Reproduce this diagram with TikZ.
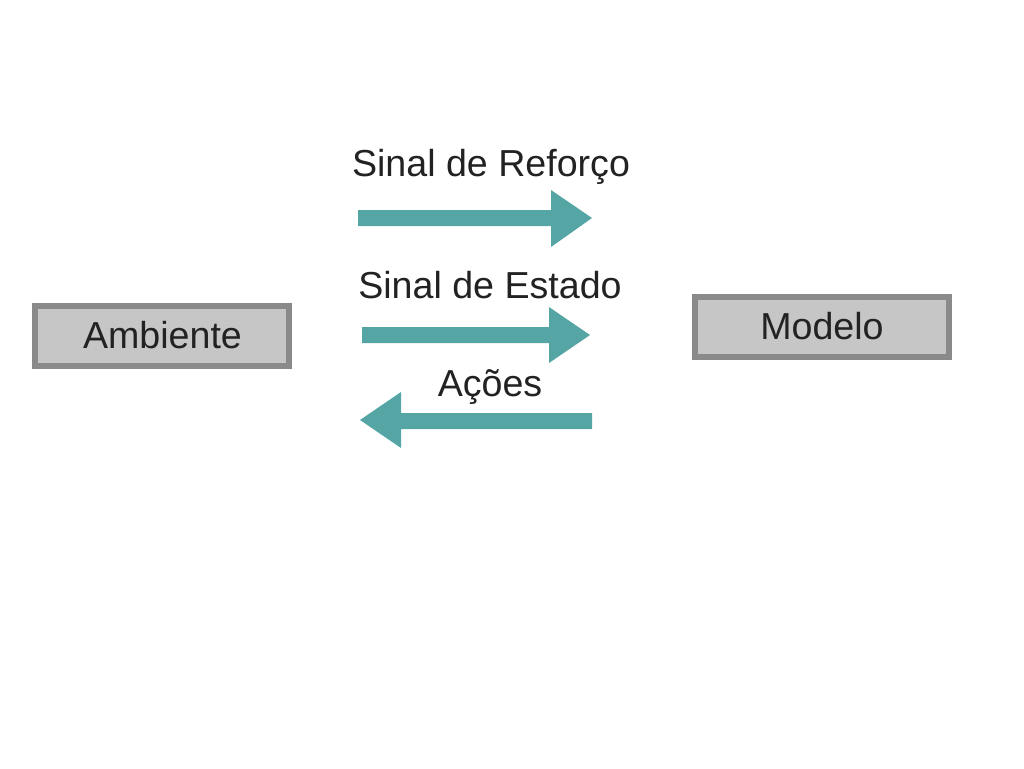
\documentclass[tikz,border=0pt]{standalone}
\usepackage{fontspec}
\setmainfont{Liberation Sans}
\definecolor{teal1}{HTML}{56A5A5}
\definecolor{boxfill}{HTML}{C6C6C6}
\definecolor{boxline}{HTML}{8A8A8A}
\definecolor{txt}{HTML}{222222}
\begin{document}
\begin{tikzpicture}[x=0.75pt,y=-0.75pt,
  lbl/.style={anchor=base,text=txt,inner sep=0pt,font=\fontsize{28.2pt}{32pt}\selectfont},
  boxnode/.style={draw=boxline,fill=boxfill,line width=4.5pt,minimum width=190.5pt,minimum height=45pt,inner sep=0pt},
  bigarrow/.style={fill=teal1}]
\useasboundingbox (0,0) rectangle (1024,768);
% boxes
\node[boxnode] (amb) at (162,336) {};
\node[lbl] (ambt) at (162.5,348.5) {Ambiente};
\node[boxnode] (mod) at (822,327) {};
\node[lbl] (modt) at (822,339.5) {Modelo};
% labels
\node[lbl] (l1) at (491,176) {Sinal de Reforço};
\node[lbl] (l2) at (490,298) {Sinal de Estado};
\node[lbl] (l3) at (490,396) {Ações};
% arrows
\fill[bigarrow] (358,210) -- (551,210) -- (551,190) -- (592,218) -- (551,247) -- (551,226) -- (358,226) -- cycle;
\fill[bigarrow] (362,327) -- (549,327) -- (549,307) -- (590,335) -- (549,363) -- (549,343) -- (362,343) -- cycle;
\fill[bigarrow] (592,413) -- (401,413) -- (401,392) -- (360,420) -- (401,448) -- (401,429) -- (592,429) -- cycle;
\end{tikzpicture}
\end{document}
